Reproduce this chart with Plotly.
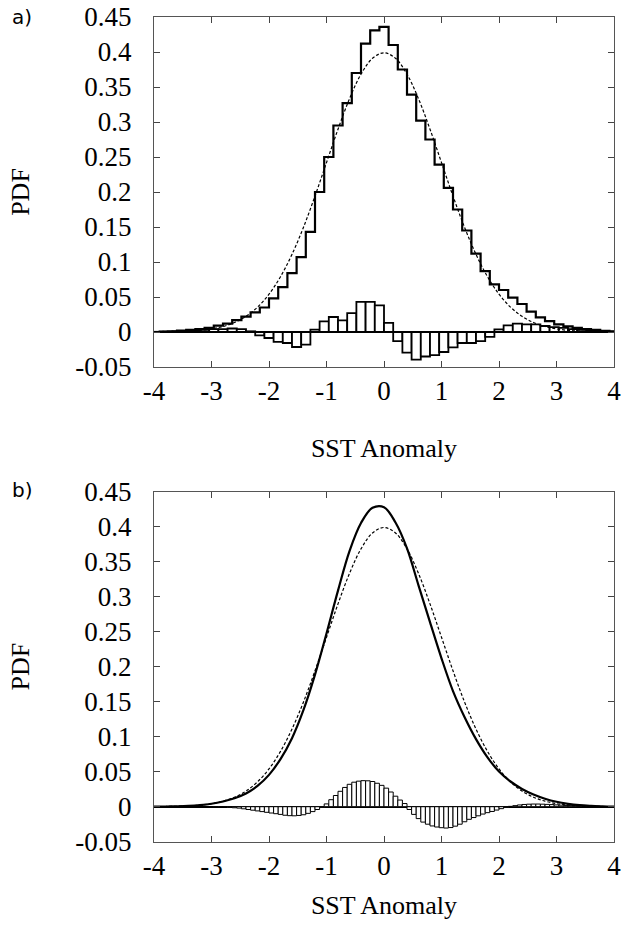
import numpy as np
import plotly.graph_objects as go

# ---------------- data ----------------
# Panel a: 50 bins of width 0.16 between -4 and 4 (bin centres)
bin_width_a = 0.16
centers_a = np.round(np.linspace(-3.92, 3.92, 50), 2)
hist_a = [0.0005, 0.001, 0.002, 0.003, 0.004, 0.006, 0.009, 0.012, 0.017, 0.022,
          0.028, 0.035, 0.048, 0.064, 0.084, 0.107, 0.143, 0.200, 0.250, 0.295,
          0.327, 0.370, 0.412, 0.431, 0.436, 0.410, 0.375, 0.339, 0.302, 0.275,
          0.239, 0.206, 0.175, 0.145, 0.112, 0.087, 0.068, 0.060, 0.049, 0.040,
          0.029, 0.021, 0.0155, 0.011, 0.008, 0.006, 0.004, 0.003, 0.0015, 0.001]
diff_a = [0.0003, 0.0005, 0.001, 0.0015, 0.002, 0.003, 0.004, 0.004, 0.005, 0.004,
          0.001, -0.0047, -0.0086, -0.014, -0.0157, -0.0214, -0.018, 0.0033, 0.0153, 0.0214,
          0.0167, 0.027, 0.043, 0.043, 0.038, 0.013, -0.0129, -0.0295, -0.0395, -0.035,
          -0.033, -0.0286, -0.022, -0.0157, -0.0157, -0.0129, -0.007, 0.0038, 0.0096, 0.012,
          0.011, 0.011, 0.0086, 0.007, 0.006, 0.004, 0.003, 0.002, 0.001, 0.0005]

# Reference Gaussian (dashed) and smoothed PDF (solid, panel b) sampled every 0.2
curve_x = np.round(np.linspace(-4, 4, 41), 2)
gauss_half = [0.3989, 0.3910, 0.3683, 0.3332, 0.2897, 0.2420, 0.1942, 0.1497, 0.1109, 0.0790,
              0.0540, 0.0355, 0.0224, 0.0136, 0.0079, 0.0044, 0.0024, 0.0012, 0.0006, 0.0003, 0.0001]
gauss_pdf = gauss_half[::-1] + gauss_half[1:]
smooth_pdf = [0.0001, 0.0003, 0.0006, 0.0012, 0.0023, 0.0042, 0.0075, 0.0121, 0.0189, 0.0297,
              0.0455, 0.068, 0.0979, 0.1382, 0.1887, 0.2475, 0.3087, 0.3652, 0.4053, 0.4270,
              0.4279, 0.4060, 0.369, 0.3162, 0.2637, 0.2120, 0.1652, 0.1282, 0.0966, 0.0705,
              0.0502, 0.036, 0.0254, 0.0174, 0.0114, 0.007, 0.0041, 0.0022, 0.0012, 0.0006, 0.0002]

# Panel b: 100 bins of width 0.08
bin_width_b = 0.08
centers_b = np.round(np.linspace(-3.96, 3.96, 100), 2)
diff_b = [0, 0, 0, 0, 0, 0, 0, 0, -0.0001, -0.0001,
          -0.0001, -0.0002, -0.0002, -0.0003, -0.0004, -0.0006, -0.001, -0.0015, -0.002, -0.003,
          -0.004, -0.005, -0.006, -0.007, -0.008, -0.009, -0.010, -0.011, -0.0122, -0.0128,
          -0.013, -0.0125, -0.0115, -0.0095, -0.007, -0.004, -0.001,
          0.004, 0.010, 0.016, 0.022, 0.0275, 0.032, 0.035, 0.0365, 0.0372, 0.037,
          0.036, 0.0335, 0.0305, 0.0265, 0.021, 0.015, 0.0095, 0.0045,
          -0.004, -0.011, -0.017, -0.022, -0.025, -0.0275, -0.029, -0.030, -0.0305, -0.0298,
          -0.0278, -0.025, -0.0215, -0.018, -0.0155, -0.013, -0.0105, -0.0085, -0.0068, -0.0048,
          -0.0028, -0.001,
          0.0005, 0.0015, 0.0025, 0.0032, 0.0036, 0.0038, 0.0038, 0.0036, 0.0033, 0.003,
          0.0026, 0.0022, 0.0018, 0.0015, 0.0012, 0.001, 0.0008, 0.0006, 0.0005, 0.0004,
          0.0003, 0.0002, 0.0001]

x_ticks = [-4, -3, -2, -1, 0, 1, 2, 3, 4]
x_ticktext = ["-4", "-3", "-2", "-1", "0", "1", "2", "3", "4"]
y_ticks = [-0.05, 0, 0.05, 0.1, 0.15, 0.2, 0.25, 0.3, 0.35, 0.4, 0.45]
y_ticktext = ["-0.05", "0", "0.05", "0.1", "0.15", "0.2", "0.25", "0.3", "0.35", "0.4", "0.45"]
panel_labels = ["a)", "b)"]
x_title = "SST Anomaly"
y_title = "PDF"

# ---------------- figure ----------------
W, H = 628, 926
SERIF = "Liberation Serif"
fig = go.Figure()

# histogram steps: each bin drawn from its centre to the next (as in the source)
hist_x = np.append(centers_a, centers_a[-1] + bin_width_a)
hist_y = list(hist_a) + [hist_a[-1]]

fig.add_trace(go.Bar(x=centers_a, y=diff_a, width=bin_width_a,
                     marker=dict(color="white", line=dict(color="black", width=1.8)),
                     xaxis="x", yaxis="y", showlegend=False))
fig.add_trace(go.Scatter(x=hist_x, y=hist_y, mode="lines",
                         line=dict(shape="hv", color="black", width=2.2),
                         xaxis="x", yaxis="y", showlegend=False))
fig.add_trace(go.Scatter(x=curve_x, y=gauss_pdf, mode="lines",
                         line=dict(shape="spline", color="black", width=1.2, dash="3px,2px"),
                         xaxis="x", yaxis="y", showlegend=False))

fig.add_trace(go.Bar(x=centers_b, y=diff_b, width=bin_width_b,
                     marker=dict(color="white", line=dict(color="black", width=1.0)),
                     xaxis="x2", yaxis="y2", showlegend=False))
fig.add_trace(go.Scatter(x=curve_x, y=smooth_pdf, mode="lines",
                         line=dict(shape="spline", color="black", width=2.2),
                         xaxis="x2", yaxis="y2", showlegend=False))
fig.add_trace(go.Scatter(x=curve_x, y=gauss_pdf, mode="lines",
                         line=dict(shape="spline", color="black", width=1.2, dash="3px,2px"),
                         xaxis="x2", yaxis="y2", showlegend=False))


def xaxis_cfg(anchor, title_standoff):
    return dict(domain=[154 / W, 614 / W], anchor=anchor, automargin=False,
                range=[-4, 4], tickmode="array", tickvals=x_ticks, ticktext=x_ticktext,
                ticks="inside", ticklen=6, tickcolor="#444", showline=True, linecolor="#555",
                linewidth=1, mirror="ticks", showgrid=False, zeroline=False,
                tickfont=dict(family=SERIF, size=27, color="black"),
                title=dict(text=x_title, font=dict(family=SERIF, size=26, color="black"),
                           standoff=title_standoff))


def yaxis_cfg(anchor, dom):
    return dict(domain=dom, anchor=anchor, automargin=False,
                range=[-0.05, 0.45], tickmode="array", tickvals=y_ticks, ticktext=y_ticktext,
                ticks="inside", ticklen=6, tickcolor="#444", showline=True, linecolor="#555",
                linewidth=1, mirror="ticks", showgrid=False,
                zeroline=True, zerolinecolor="black", zerolinewidth=1.5,
                tickfont=dict(family=SERIF, size=27, color="black"), ticklabelstandoff=16,
                title=dict(text=y_title, font=dict(family=SERIF, size=26, color="black"), standoff=38))


fig.update_layout(
    width=W, height=H,
    margin=dict(l=0, r=0, t=0, b=0, autoexpand=False),
    paper_bgcolor="white", plot_bgcolor="white",
    barmode="overlay",
    font=dict(family=SERIF, size=26, color="black"),
    xaxis=xaxis_cfg("y", 33),
    yaxis=yaxis_cfg("x", [1 - 367 / H, 1 - 17 / H]),
    xaxis2=xaxis_cfg("y2", 15),
    yaxis2=yaxis_cfg("x2", [1 - 841.7 / H, 1 - 491.7 / H]),
    annotations=[
        dict(text=panel_labels[0], x=10 / W, y=1 - 3 / H, xref="paper", yref="paper",
             xanchor="left", yanchor="top", showarrow=False,
             font=dict(family="DejaVu Sans", size=20, color="black")),
        dict(text=panel_labels[1], x=10 / W, y=1 - 476 / H, xref="paper", yref="paper",
             xanchor="left", yanchor="top", showarrow=False,
             font=dict(family="DejaVu Sans", size=20, color="black")),
    ],
)

fig.write_html("out.html")
